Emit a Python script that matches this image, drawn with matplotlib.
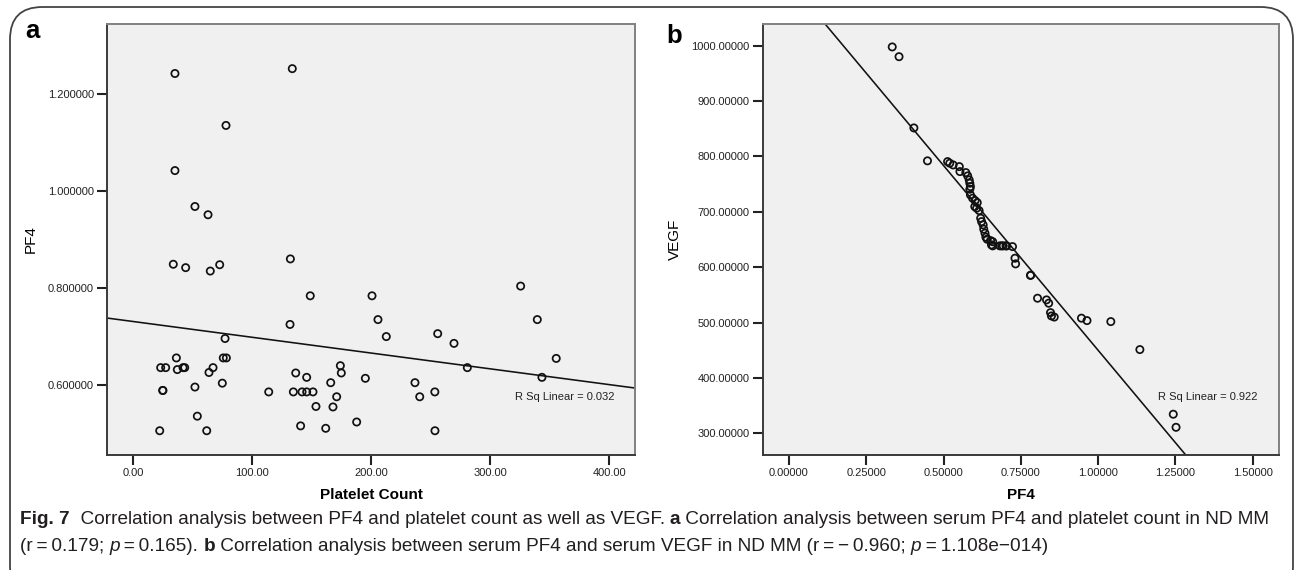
import numpy as np
import matplotlib
matplotlib.use("Agg")
import matplotlib.pyplot as plt
from matplotlib.patches import FancyBboxPatch
from matplotlib.ticker import FormatStrFormatter

# panel a: platelet count vs PF4
platelet = [35.0, 133.6, 77.9, 35.0, 51.8, 62.8, 33.6, 44.0, 64.7, 72.6,
            132.0, 148.7, 131.7, 77.1, 36.2, 23.0, 27.2, 37.0, 41.8, 43.2,
            63.6, 67.0, 75.6, 78.2, 74.8, 51.8, 24.7, 24.9, 53.8, 22.2,
            61.7, 113.8, 136.5, 145.7, 134.5, 141.8, 145.7, 151.0, 153.5, 140.6,
            161.7, 200.6, 205.6, 212.6, 255.8, 269.5, 325.5, 339.5, 355.4, 280.7,
            343.4, 174.0, 174.8, 165.9, 195.0, 236.7, 240.7, 253.4, 170.9, 167.8,
            187.7, 253.5]
pf4_a = [1.242, 1.252, 1.135, 1.042, 0.968, 0.951, 0.849, 0.842, 0.835, 0.848,
         0.860, 0.784, 0.725, 0.696, 0.656, 0.636, 0.636, 0.632, 0.636, 0.636,
         0.626, 0.636, 0.656, 0.656, 0.604, 0.596, 0.589, 0.589, 0.536, 0.506,
         0.506, 0.586, 0.625, 0.616, 0.586, 0.586, 0.586, 0.586, 0.556, 0.516,
         0.511, 0.784, 0.735, 0.700, 0.706, 0.686, 0.804, 0.735, 0.655, 0.636,
         0.616, 0.640, 0.625, 0.605, 0.614, 0.605, 0.576, 0.586, 0.576, 0.555,
         0.524, 0.506]
fit_a = [0.731, -0.000325]   # intercept, slope
r2_a = "R Sq Linear = 0.032"

# panel b: PF4 vs VEGF
pf4_b = [0.334, 0.356, 0.404, 0.448, 0.513, 0.520, 0.531, 0.551, 0.553, 0.572,
         0.578, 0.583, 0.585, 0.587, 0.585, 0.587, 0.594, 0.602, 0.609, 0.601,
         0.607, 0.615, 0.620, 0.623, 0.628, 0.630, 0.634, 0.637, 0.641, 0.652,
         0.655, 0.659, 0.659, 0.682, 0.688, 0.693, 0.702, 0.704, 0.723, 0.731,
         0.733, 0.781, 0.782, 0.804, 0.833, 0.840, 0.846, 0.849, 0.858, 0.946,
         0.964, 1.041, 1.135, 1.243, 1.252]
vegf = [997.6, 980.0, 851.4, 792.0, 790.6, 787.7, 784.6, 781.6, 772.6, 770.8,
        764.8, 757.6, 751.6, 745.5, 740.8, 730.5, 724.5, 720.2, 716.6, 709.4,
        706.5, 702.2, 688.4, 682.3, 676.4, 668.6, 661.4, 654.2, 650.5, 648.0,
        640.3, 646.0, 638.5, 638.5, 638.5, 638.5, 638.5, 638.5, 637.2, 616.2,
        606.0, 585.2, 585.6, 544.0, 541.0, 535.0, 518.0, 512.0, 510.0, 508.0,
        503.6, 501.8, 451.3, 334.6, 311.0]
fit_b = [1117.0, -667.0]
r2_b = "R Sq Linear = 0.922"

W, H = 1295, 570
fig = plt.figure(figsize=(W / 100, H / 100), dpi=100)
sans = ["Liberation Sans", "DejaVu Sans"]
plt.rcParams["font.family"] = sans
TICK = 8.0


def px(x0, y0, x1, y1):
    return [x0 / W, 1 - y1 / H, (x1 - x0) / W, (y1 - y0) / H]


def style(ax, xfmt, yfmt):
    ax.set_facecolor("#f0f0f0")
    for s in ["top", "right"]:
        ax.spines[s].set_color("#808080")
        ax.spines[s].set_linewidth(1.4)
    for s in ["left", "bottom"]:
        ax.spines[s].set_color("#3a3a3a")
        ax.spines[s].set_linewidth(1.4)
    ax.tick_params(direction="out", length=7, width=1.5, color="#222222",
                   labelsize=TICK, labelcolor="#222222", pad=2.5)
    ax.xaxis.set_major_formatter(FormatStrFormatter(xfmt))
    ax.yaxis.set_major_formatter(FormatStrFormatter(yfmt))


def scatter_fit(ax, x, y, fit, xlim):
    ax.scatter(x, y, s=27, facecolors="none", edgecolors="#111111",
               linewidths=1.25, zorder=3)
    xs = np.array(xlim)
    ax.plot(xs, fit[0] + fit[1] * xs, color="#111111", lw=1.15, zorder=2)
    ax.set_xlim(xlim)


# panel a
ax_a = fig.add_axes(px(107, 24, 635, 455))
style(ax_a, "%.2f", "%.6f")
scatter_fit(ax_a, platelet, pf4_a, fit_a, (-22.1, 421.6))
ax_a.set_ylim(0.456, 1.344)
ax_a.set_xticks([0, 100, 200, 300, 400])
ax_a.set_yticks([0.6, 0.8, 1.0, 1.2])
ax_a.text(320.8, 0.5765, r2_a, fontsize=TICK, color="#222222", va="center")
ax_a.set_xlabel("Platelet Count", fontsize=11, fontweight="bold", labelpad=7)
ax_a.set_ylabel("PF4", fontsize=11, labelpad=7)

# panel b
ax_b = fig.add_axes(px(763, 24, 1279, 455))
style(ax_b, "%.5f", "%.5f")
scatter_fit(ax_b, pf4_b, vegf, fit_b, (-0.084, 1.585))
ax_b.set_ylim(261, 1039)
ax_b.set_xticks([0, 0.25, 0.5, 0.75, 1.0, 1.25, 1.5])
ax_b.set_yticks([300, 400, 500, 600, 700, 800, 900, 1000])
ax_b.text(1.194, 366.4, r2_b, fontsize=TICK, color="#222222", va="center")
ax_b.set_xlabel("PF4", fontsize=11, fontweight="bold", labelpad=7)
ax_b.set_ylabel("VEGF", fontsize=11, labelpad=7)

# panel letters
fig.text(25 / W, 1 - 38.5 / H, "a", fontsize=18.5, fontweight="bold", va="baseline")
fig.text(666 / W, 1 - 43 / H, "b", fontsize=18.5, fontweight="bold", va="baseline")

# outer rounded frame
frame = FancyBboxPatch((10 / W, -0.05), 1283 / W, 1 - 7 / H + 0.05,
                       boxstyle="round,pad=0,rounding_size=0.025",
                       transform=fig.transFigure, fill=False,
                       edgecolor="#444444", linewidth=1.3, mutation_aspect=W / H)
fig.patches.append(frame)

# caption, placed piece by piece
cap_font = ["Liberation Sans Narrow", "Liberation Sans", "DejaVu Sans"]
line1 = [("Fig. 7", "bold", "normal"),
         ("  Correlation analysis between PF4 and platelet count as well as VEGF. ", "normal", "normal"),
         ("a", "bold", "normal"),
         (" Correlation analysis between serum PF4 and platelet count in ND MM", "normal", "normal")]
line2 = [("(r\u2009=\u20090.179; ", "normal", "normal"), ("p", "normal", "italic"),
         ("\u2009=\u20090.165). ", "normal", "normal"), ("b", "bold", "normal"),
         (" Correlation analysis between serum PF4 and serum VEGF in ND MM (r\u2009=\u2009\u2212\u20090.960; ", "normal", "normal"),
         ("p", "normal", "italic"), ("\u2009=\u20091.108e\u2212014)", "normal", "normal")]

renderer = fig.canvas.get_renderer()


def put_line(pieces, y, size):
    x = 20.0
    made = []
    for s, wt, st in pieces:
        t = fig.text(x / W, 1 - y / H, s, fontsize=size, fontweight=wt,
                     fontstyle=st, family=cap_font, color="#231f20", va="baseline")
        made.append(t)
        x += t.get_window_extent(renderer).width
    return x, made


# size the caption so line 1 fills the frame width
cap_size = 10.0
for _ in range(3):
    end, made = put_line(line1, -100, cap_size)
    for t in made:
        t.remove()
    cap_size *= (1283 - 20) / (end - 20)
put_line(line1, 524, cap_size)
put_line(line2, 551, cap_size)

fig.savefig("out.png", dpi=100)
